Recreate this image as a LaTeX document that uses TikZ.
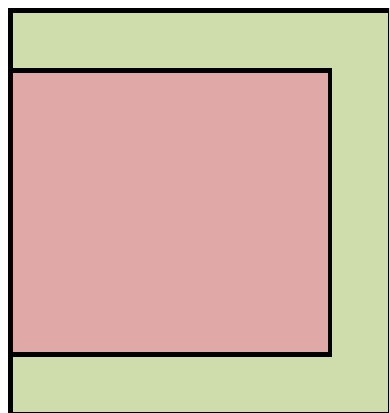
\documentclass[tikz,border=0pt]{standalone}
\usepackage{tikz}

\definecolor{boxgreen}{RGB}{207,221,173}
\definecolor{boxred}{RGB}{224,168,167}

\begin{document}
\begin{tikzpicture}[
        x=1pt, y=-1pt,
        every node/.style={draw=black, line width=4.5pt, inner sep=0pt, outer sep=0pt},
        outer_box/.style={fill=boxgreen, anchor=north west, minimum width=379.5pt, minimum height=403.5pt},
        inner_box/.style={fill=boxred, anchor=north west, minimum width=319.5pt, minimum height=284pt}
    ]
    \useasboundingbox (0,0) rectangle (389,413);
    \begin{scope}
        \clip (0,0) rectangle (389,413);
        \node[outer_box] (outer) at (10.5,10.5) {};
        \node[inner_box] (inner) at (10.5,70.5) {};
    \end{scope}
\end{tikzpicture}
\end{document}
